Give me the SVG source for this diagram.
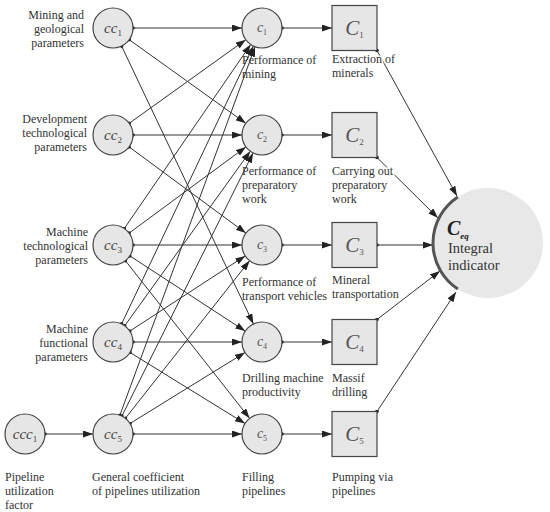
<svg xmlns="http://www.w3.org/2000/svg" width="550" height="512" viewBox="0 0 550 512">
<defs>
<style>
.ln{stroke:#333;stroke-width:1;fill:none;marker-start:url(#dot);marker-end:url(#arr)}
.nd{fill:#e6e6e6;stroke:#444;stroke-width:1.2}
.lb{font-family:"Liberation Serif","Times New Roman",serif;font-size:12px;fill:#333}
.halo{paint-order:stroke;stroke:#fff;stroke-width:3px;stroke-linejoin:round}
.cc{font-family:"Liberation Serif","Times New Roman",serif;font-size:15px;fill:#444;text-anchor:middle}
.c{font-family:"Liberation Serif","Times New Roman",serif;font-size:14px;fill:#555;text-anchor:middle}
.C{font-family:"Liberation Serif","Times New Roman",serif;font-size:21px;fill:#555;text-anchor:middle}
.it{font-style:italic}
.r{text-anchor:end}
</style>
<marker id="arr" viewBox="0 0 10 7" refX="10" refY="3.5" markerWidth="10" markerHeight="7" orient="auto" markerUnits="userSpaceOnUse"><path d="M0,0 L10,3.5 L0,7 z" fill="#222"/></marker>
<marker id="dot" viewBox="0 0 4 4" refX="2" refY="2" markerWidth="4" markerHeight="4" markerUnits="userSpaceOnUse"><circle cx="2" cy="2" r="1.8" fill="#222"/></marker>
</defs>
<rect width="550" height="512" fill="#fff"/>

<g id="connectors">
<line class="ln" x1="133" y1="28" x2="242" y2="28"/>
<line class="ln" x1="129.2" y1="39.7" x2="245.8" y2="123.3"/>
<line class="ln" x1="121.6" y1="46.1" x2="253.4" y2="323.9"/>
<line class="ln" x1="129.2" y1="123.3" x2="245.8" y2="39.7"/>
<line class="ln" x1="133" y1="135" x2="242" y2="135"/>
<line class="ln" x1="129.1" y1="146.9" x2="245.9" y2="233.1"/>
<line class="ln" x1="124.3" y1="228.5" x2="250.7" y2="44.5"/>
<line class="ln" x1="129.1" y1="233.1" x2="245.9" y2="146.9"/>
<line class="ln" x1="133" y1="245" x2="242" y2="245"/>
<line class="ln" x1="129.8" y1="255.9" x2="245.2" y2="331.1"/>
<line class="ln" x1="125.4" y1="260.7" x2="249.6" y2="418.3"/>
<line class="ln" x1="121.6" y1="323.9" x2="253.4" y2="46.1"/>
<line class="ln" x1="124.7" y1="325.8" x2="250.3" y2="151.2"/>
<line class="ln" x1="129.8" y1="331.1" x2="245.2" y2="255.9"/>
<line class="ln" x1="133" y1="342" x2="242" y2="342"/>
<line class="ln" x1="130" y1="352.5" x2="245" y2="423.5"/>
<line class="ln" x1="119.9" y1="415.2" x2="255.1" y2="46.8"/>
<line class="ln" x1="121.9" y1="416.1" x2="253.1" y2="152.9"/>
<line class="ln" x1="125.4" y1="418.3" x2="249.6" y2="260.7"/>
<line class="ln" x1="130" y1="423.5" x2="245" y2="352.5"/>
<line class="ln" x1="133" y1="434" x2="242" y2="434"/>
<line class="ln" x1="45" y1="434" x2="93" y2="434"/>
<line class="ln" x1="282" y1="28" x2="332" y2="28"/>
<line class="ln" x1="282" y1="135" x2="332" y2="135"/>
<line class="ln" x1="282" y1="245" x2="332" y2="245"/>
<line class="ln" x1="282" y1="342" x2="332" y2="342"/>
<line class="ln" x1="282" y1="434" x2="332" y2="434"/>
<line class="ln" x1="377" y1="50.5" x2="457" y2="196"/>
<line class="ln" x1="377" y1="157.5" x2="438" y2="218"/>
<line class="ln" x1="377" y1="245" x2="433" y2="245"/>
<line class="ln" x1="377" y1="319.5" x2="440" y2="271"/>
<line class="ln" x1="377" y1="411.5" x2="456" y2="292"/>
</g>

<g id="ccc1">
<circle class="nd" cx="25" cy="434" r="20"/>
<text class="cc" x="25" y="439"><tspan class="it">ccc</tspan><tspan font-size="9" dy="3">1</tspan></text>
<text class="lb" x="5" y="481">Pipeline</text>
<text class="lb" x="5" y="495">utilization</text>
<text class="lb" x="5" y="509">factor</text>
</g>

<g id="cc1">
<circle class="nd" cx="113" cy="28" r="20"/>
<text class="cc" x="113" y="33"><tspan class="it">cc</tspan><tspan font-size="9" dy="3">1</tspan></text>
<text class="lb r" x="84" y="19">Mining and</text>
<text class="lb r" x="84" y="33">geological</text>
<text class="lb r" x="84" y="47">parameters</text>
</g>
<g id="cc2">
<circle class="nd" cx="113" cy="135" r="20"/>
<text class="cc" x="113" y="140"><tspan class="it">cc</tspan><tspan font-size="9" dy="3">2</tspan></text>
<text class="lb r" x="87" y="123">Development</text>
<text class="lb r" x="87" y="137">technological</text>
<text class="lb r" x="87" y="151">parameters</text>
</g>
<g id="cc3">
<circle class="nd" cx="113" cy="245" r="20"/>
<text class="cc" x="113" y="250"><tspan class="it">cc</tspan><tspan font-size="9" dy="3">3</tspan></text>
<text class="lb r" x="88" y="236">Machine</text>
<text class="lb r" x="88" y="250">technological</text>
<text class="lb r" x="88" y="264">parameters</text>
</g>
<g id="cc4">
<circle class="nd" cx="113" cy="342" r="20"/>
<text class="cc" x="113" y="347"><tspan class="it">cc</tspan><tspan font-size="9" dy="3">4</tspan></text>
<text class="lb r" x="88" y="333">Machine</text>
<text class="lb r" x="88" y="347">functional</text>
<text class="lb r" x="88" y="361">parameters</text>
</g>
<g id="cc5">
<circle class="nd" cx="113" cy="434" r="20"/>
<text class="cc" x="113" y="439"><tspan class="it">cc</tspan><tspan font-size="9" dy="3">5</tspan></text>
<text class="lb" x="92" y="481">General coefficient</text>
<text class="lb" x="92" y="495">of pipelines utilization</text>
</g>

<g id="c1">
<circle class="nd" cx="262" cy="28" r="20"/>
<text class="c" x="262" y="32"><tspan class="it">c</tspan><tspan font-size="8" dy="3">1</tspan></text>
<text class="lb" x="242" y="64">Performance of</text>
<text class="lb" x="242" y="78">mining</text>
</g>
<g id="c2">
<circle class="nd" cx="262" cy="135" r="20"/>
<text class="c" x="262" y="139"><tspan class="it">c</tspan><tspan font-size="8" dy="3">2</tspan></text>
<text class="lb" x="242" y="175">Performance of</text>
<text class="lb" x="242" y="189">preparatory</text>
<text class="lb" x="242" y="203">work</text>
</g>
<g id="c3">
<circle class="nd" cx="262" cy="245" r="20"/>
<text class="c" x="262" y="249"><tspan class="it">c</tspan><tspan font-size="8" dy="3">3</tspan></text>
<text class="lb" x="242" y="286">Performance of</text>
<text class="lb" x="242" y="300">transport vehicles</text>
</g>
<g id="c4">
<circle class="nd" cx="262" cy="342" r="20"/>
<text class="c" x="262" y="346"><tspan class="it">c</tspan><tspan font-size="8" dy="3">4</tspan></text>
<text class="lb" x="242" y="382">Drilling machine</text>
<text class="lb" x="242" y="396">productivity</text>
</g>
<g id="c5">
<circle class="nd" cx="262" cy="434" r="20"/>
<text class="c" x="262" y="438"><tspan class="it">c</tspan><tspan font-size="8" dy="3">5</tspan></text>
<text class="lb" x="242" y="481">Filling</text>
<text class="lb" x="242" y="495">pipelines</text>
</g>

<g id="C1">
<rect class="nd" x="332" y="5.5" width="45" height="45"/>
<text class="C" x="354.5" y="35"><tspan class="it">C</tspan><tspan font-size="9" dy="3">1</tspan></text>
<text class="lb halo" x="332" y="63">Extraction of</text>
<text class="lb" x="332" y="77">minerals</text>
</g>
<g id="C2">
<rect class="nd" x="332" y="112.5" width="45" height="45"/>
<text class="C" x="354.5" y="142"><tspan class="it">C</tspan><tspan font-size="9" dy="3">2</tspan></text>
<text class="lb halo" x="332" y="175">Carrying out</text>
<text class="lb" x="332" y="189">preparatory</text>
<text class="lb" x="332" y="203">work</text>
</g>
<g id="C3">
<rect class="nd" x="332" y="222.5" width="45" height="45"/>
<text class="C" x="354.5" y="252"><tspan class="it">C</tspan><tspan font-size="9" dy="3">3</tspan></text>
<text class="lb" x="332" y="284">Mineral</text>
<text class="lb" x="332" y="298">transportation</text>
</g>
<g id="C4">
<rect class="nd" x="332" y="319.5" width="45" height="45"/>
<text class="C" x="354.5" y="349"><tspan class="it">C</tspan><tspan font-size="9" dy="3">4</tspan></text>
<text class="lb" x="332" y="382">Massif</text>
<text class="lb" x="332" y="396">drilling</text>
</g>
<g id="C5">
<rect class="nd" x="332" y="411.5" width="45" height="45"/>
<text class="C" x="354.5" y="441"><tspan class="it">C</tspan><tspan font-size="9" dy="3">5</tspan></text>
<text class="lb" x="332" y="481">Pumping via</text>
<text class="lb" x="332" y="495">pipelines</text>
</g>

<g id="Ceq">
<circle cx="488" cy="243" r="55" fill="#e8e8e8"/>
<path d="M457.85,197 A55,55 0 0 0 457.85,289" fill="none" stroke="#555" stroke-width="3"/>
<text x="447" y="235" font-family="'Liberation Serif','Times New Roman',serif" fill="#222"><tspan font-size="20" font-weight="bold" font-style="italic">C</tspan><tspan font-size="9" font-style="italic" font-weight="bold" dy="4">eq</tspan></text>
<text x="448" y="253" font-family="'Liberation Serif','Times New Roman',serif" font-size="14.5" fill="#333">Integral</text>
<text x="448" y="270" font-family="'Liberation Serif','Times New Roman',serif" font-size="14.5" fill="#333">indicator</text>
</g>
</svg>
